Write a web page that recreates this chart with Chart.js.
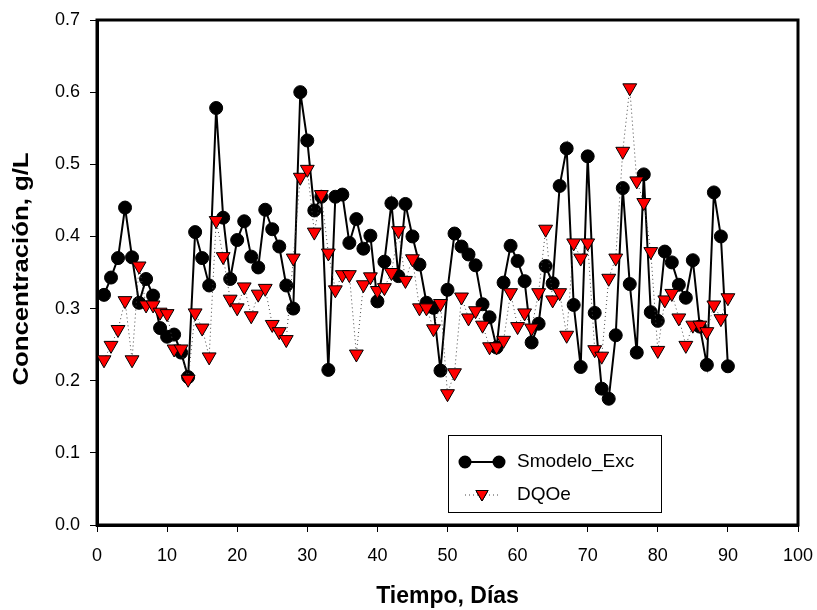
<!DOCTYPE html>
<html>
<head>
<meta charset="utf-8">
<script src="https://cdn.jsdelivr.net/npm/chart.js@4/dist/chart.umd.min.js"></script>
<style>
  html, body { margin: 0; padding: 0; background: #fff; }
  #chart { display: block; }
</style>
</head>
<body>
<canvas id="chart" width="817" height="610"></canvas>
<script>
const days = [
  1, 2, 3, 4, 5, 6, 7, 8, 9, 10, 11, 12, 13, 14, 15, 16, 17, 18, 19, 20,
  21, 22, 23, 24, 25, 26, 27, 28, 29, 30, 31, 32, 33, 34, 35, 36, 37, 38, 39, 40,
  41, 42, 43, 44, 45, 46, 47, 48, 49, 50, 51, 52, 53, 54, 55, 56, 57, 58, 59, 60,
  61, 62, 63, 64, 65, 66, 67, 68, 69, 70, 71, 72, 73, 74, 75, 76, 77, 78, 79, 80,
  81, 82, 83, 84, 85, 86, 87, 88, 89, 90
];

const smodeloExc = [
  0.319, 0.343, 0.370, 0.440, 0.371, 0.308, 0.341, 0.318, 0.273, 0.261,
  0.264, 0.239, 0.205, 0.406, 0.370, 0.332, 0.578, 0.426, 0.341, 0.395,
  0.421, 0.372, 0.357, 0.437, 0.410, 0.386, 0.332, 0.300, 0.600, 0.533,
  0.436, 0.455, 0.215, 0.455, 0.458, 0.391, 0.424, 0.383, 0.401, 0.310,
  0.365, 0.446, 0.345, 0.445, 0.400, 0.361, 0.308, 0.301, 0.214, 0.326,
  0.404, 0.386, 0.375, 0.360, 0.306, 0.288, 0.246, 0.336, 0.387, 0.366,
  0.338, 0.253, 0.279, 0.359, 0.335, 0.470, 0.522, 0.305, 0.219, 0.511,
  0.294, 0.189, 0.175, 0.263, 0.467, 0.334, 0.239, 0.486, 0.295, 0.283,
  0.379, 0.364, 0.333, 0.315, 0.367, 0.275, 0.222, 0.461, 0.400, 0.220
];

const dqoe = [
  0.229, 0.249, 0.271, 0.311, 0.229, 0.359, 0.305, 0.305, 0.295, 0.293,
  0.244, 0.244, 0.202, 0.294, 0.273, 0.233, 0.422, 0.372, 0.313, 0.301,
  0.330, 0.290, 0.320, 0.328, 0.278, 0.268, 0.257, 0.370, 0.482, 0.493,
  0.406, 0.458, 0.377, 0.326, 0.347, 0.347, 0.237, 0.333, 0.344, 0.325,
  0.329, 0.350, 0.408, 0.339, 0.369, 0.301, 0.301, 0.272, 0.307, 0.182,
  0.211, 0.316, 0.287, 0.297, 0.277, 0.247, 0.247, 0.256, 0.322, 0.275,
  0.294, 0.273, 0.322, 0.410, 0.312, 0.322, 0.263, 0.391, 0.370, 0.391,
  0.243, 0.234, 0.342, 0.370, 0.518, 0.606, 0.477, 0.447, 0.379, 0.242,
  0.312, 0.321, 0.287, 0.249, 0.277, 0.277, 0.268, 0.305, 0.286, 0.315
];

const xTicks = [0, 10, 20, 30, 40, 50, 60, 70, 80, 90, 100];
const yTicks = [0.0, 0.1, 0.2, 0.3, 0.4, 0.5, 0.6, 0.7];

const FONT = "Arial, 'Liberation Sans', sans-serif";
const Y_TITLE = "Concentración, g/L";

function toPoints(ys) {
  return days.map((d, i) => ({ x: d, y: ys[i] }));
}

// frame round the plot, y title (a bit stretched like the original) and legend box
const frameAndLegend = {
  id: "frameAndLegend",
  beforeDatasetsDraw(chart) {
    const { ctx, chartArea: a } = chart;
    ctx.save();
    ctx.strokeStyle = "#000";
    ctx.lineWidth = 3;
    ctx.strokeRect(a.left, a.top, a.right - a.left, a.bottom - a.top);
    ctx.restore();
  },
  afterDraw(chart) {
    const { ctx } = chart;
    const ds = chart.data.datasets;

    ctx.save();
    ctx.translate(22, 269);
    ctx.rotate(-Math.PI / 2);
    ctx.scale(1.17, 1);
    ctx.font = "bold 22px " + FONT;
    ctx.fillStyle = "#000";
    ctx.textAlign = "center";
    ctx.textBaseline = "middle";
    ctx.fillText(Y_TITLE, 0, 0);
    ctx.restore();

    const box = { x: 448, y: 435, w: 213, h: 77 };
    ctx.save();
    ctx.fillStyle = "#fff";
    ctx.fillRect(box.x, box.y, box.w, box.h);
    ctx.strokeStyle = "#000";
    ctx.lineWidth = 1;
    ctx.strokeRect(box.x + 0.5, box.y + 0.5, box.w, box.h);

    const x0 = 465, x1 = 499, tx = 517;
    const rows = [462, 495];

    ctx.strokeStyle = ds[0].borderColor;
    ctx.lineWidth = ds[0].borderWidth;
    ctx.beginPath();
    ctx.moveTo(x0, rows[0]);
    ctx.lineTo(x1, rows[0]);
    ctx.stroke();
    [x0, x1].forEach(px => {
      Chart.helpers.drawPoint(ctx, {
        pointStyle: "circle", radius: 5.5, borderWidth: 1, rotation: 0
      }, px, rows[0]);
      ctx.fillStyle = ds[0].pointBackgroundColor;
      ctx.fill();
    });

    ctx.strokeStyle = ds[1].borderColor;
    ctx.lineWidth = 1;
    ctx.setLineDash(ds[1].borderDash);
    ctx.beginPath();
    ctx.moveTo(x0, rows[1]);
    ctx.lineTo(x1, rows[1]);
    ctx.stroke();
    ctx.setLineDash([]);
    ctx.fillStyle = ds[1].pointBackgroundColor;
    ctx.strokeStyle = "#000";
    Chart.helpers.drawPoint(ctx, {
      pointStyle: "triangle", radius: 7, borderWidth: 1, rotation: 180
    }, (x0 + x1) / 2, rows[1] - 1);
    ctx.fill();
    ctx.stroke();

    ctx.fillStyle = "#000";
    ctx.font = "19px " + FONT;
    ctx.textBaseline = "middle";
    ctx.textAlign = "left";
    ctx.fillText(ds[0].label, tx, rows[0]);
    ctx.fillText(ds[1].label, tx, rows[1]);
    ctx.restore();
  }
};

new Chart(document.getElementById("chart"), {
  type: "line",
  data: {
    datasets: [
      {
        label: "Smodelo_Exc",
        data: toPoints(smodeloExc),
        borderColor: "#000",
        borderWidth: 2,
        pointStyle: "circle",
        pointRadius: 6.5,
        pointBackgroundColor: "#000",
        pointBorderColor: "#000",
        pointBorderWidth: 1,
        tension: 0,
        order: 1
      },
      {
        label: "DQOe",
        data: toPoints(dqoe),
        borderColor: "#444",
        borderWidth: 1,
        borderDash: [1, 3],
        pointStyle: "triangle",
        pointRotation: 180,
        pointRadius: 8,
        pointBackgroundColor: "#ff0000",
        pointBorderColor: "#000",
        pointBorderWidth: 1,
        tension: 0,
        order: 0
      }
    ]
  },
  options: {
    responsive: false,
    devicePixelRatio: 1,
    animation: false,
    layout: { padding: { left: 0, right: 19, top: 20, bottom: 0 } },
    plugins: {
      legend: { display: false },
      tooltip: { enabled: false }
    },
    scales: {
      x: {
        type: "linear",
        min: 0,
        max: 100,
        afterBuildTicks: s => { s.ticks = xTicks.map(v => ({ value: v })); },
        afterFit: s => {
          s.height = 85;
          s.paddingLeft = 0;
          s.paddingRight = 0;
        },
        ticks: {
          color: "#000",
          font: { family: FONT, size: 18 },
          padding: 13,
          maxRotation: 0,
          autoSkip: false
        },
        grid: {
          drawOnChartArea: false,
          tickLength: 7,
          tickColor: "#000",
          tickWidth: 1
        },
        border: { color: "#000", width: 3 },
        title: {
          display: true,
          text: "Tiempo, Días",
          color: "#000",
          font: { family: FONT, size: 23, weight: "bold" },
          padding: { top: 0, bottom: 0 }
        }
      },
      y: {
        type: "linear",
        min: 0,
        max: 0.7,
        afterBuildTicks: s => { s.ticks = yTicks.map(v => ({ value: v })); },
        afterFit: s => {
          s.width = 97;
          s.paddingTop = 0;
          s.paddingBottom = 0;
        },
        ticks: {
          color: "#000",
          font: { family: FONT, size: 18 },
          padding: 10,
          callback: v => v.toFixed(1)
        },
        grid: {
          drawOnChartArea: false,
          tickLength: 7,
          tickColor: "#000",
          tickWidth: 1
        },
        border: { color: "#000", width: 3 }
      }
    }
  },
  plugins: [frameAndLegend]
});
</script>
</body>
</html>
